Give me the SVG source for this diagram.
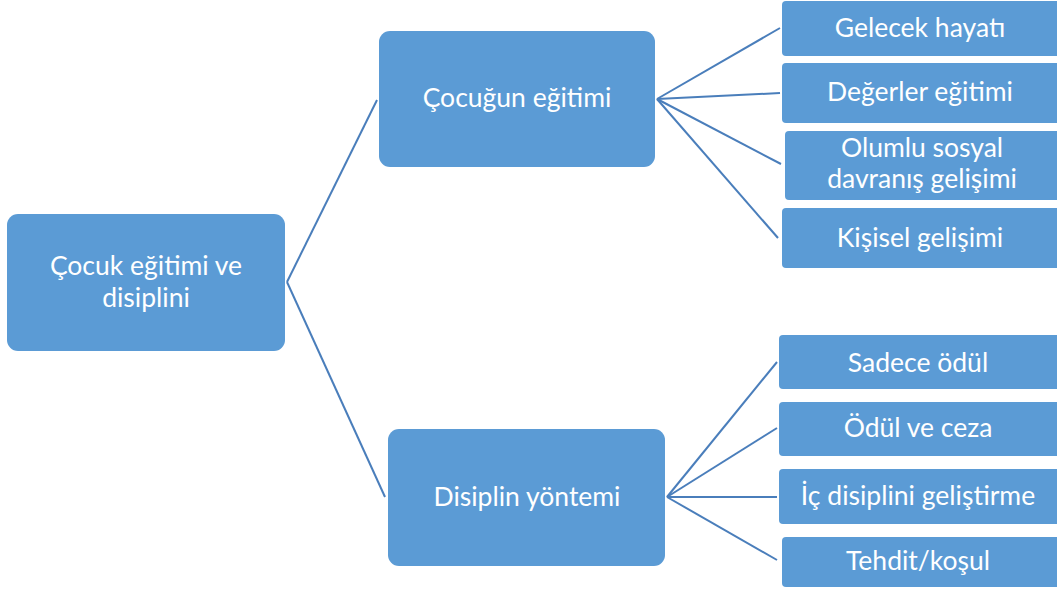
<svg xmlns="http://www.w3.org/2000/svg" width="1057" height="590" viewBox="0 0 1057 590">
<style>
.box{fill:#5b9bd5;}
.t{font-family:Lato,"Liberation Sans",sans-serif;font-size:26.5px;fill:#ffffff;text-anchor:middle;}
.c{stroke:#4a7ebb;stroke-width:2;fill:none;}
</style>
<rect width="1057" height="590" fill="#ffffff"/>
<g id="connectors">
<line class="c" x1="287" y1="282" x2="377" y2="100"/>
<line class="c" x1="287" y1="282" x2="385" y2="497"/>
<line class="c" x1="657" y1="99" x2="780" y2="28"/>
<line class="c" x1="657" y1="99" x2="780" y2="93"/>
<line class="c" x1="657" y1="99" x2="781" y2="164"/>
<line class="c" x1="657" y1="99" x2="778" y2="238"/>
<line class="c" x1="667" y1="497" x2="777" y2="362"/>
<line class="c" x1="667" y1="497" x2="777" y2="428"/>
<line class="c" x1="667" y1="497" x2="777" y2="497"/>
<line class="c" x1="667" y1="497" x2="777" y2="560"/>
</g>
<g id="root">
<rect class="box" x="7" y="214" width="278" height="137" rx="11"/>
<text class="t" x="146" y="275">Çocuk eğitimi ve</text>
<text class="t" x="146" y="307">disiplini</text>
</g>
<g id="cocugun">
<rect class="box" x="379" y="31" width="276" height="136" rx="11"/>
<text class="t" x="517" y="107">Çocuğun eğitimi</text>
</g>
<g id="disiplin">
<rect class="box" x="388" y="429" width="277" height="137" rx="11"/>
<text class="t" x="527" y="506">Disiplin yöntemi</text>
</g>
<g id="gelecek">
<rect class="box" x="782" y="1" width="280" height="55" rx="4"/>
<text class="t" x="920" y="37">Gelecek hayatı</text>
</g>
<g id="degerler">
<rect class="box" x="782" y="63" width="280" height="60" rx="4"/>
<text class="t" x="920" y="101">Değerler eğitimi</text>
</g>
<g id="olumlu">
<rect class="box" x="785" y="131" width="277" height="69" rx="4"/>
<text class="t" x="922" y="157">Olumlu sosyal</text>
<text class="t" x="922" y="188">davranış gelişimi</text>
</g>
<g id="kisisel">
<rect class="box" x="782" y="208" width="280" height="60" rx="4"/>
<text class="t" x="920" y="247">Kişisel gelişimi</text>
</g>
<g id="sadece">
<rect class="box" x="779" y="335" width="283" height="54" rx="4"/>
<text class="t" x="918" y="372">Sadece ödül</text>
</g>
<g id="odul">
<rect class="box" x="779" y="402" width="283" height="54" rx="4"/>
<text class="t" x="918" y="437">Ödül ve ceza</text>
</g>
<g id="ic">
<rect class="box" x="779" y="469" width="283" height="55" rx="4"/>
<text class="t" x="918" y="505">İç disiplini geliştirme</text>
</g>
<g id="tehdit">
<rect class="box" x="782" y="537" width="280" height="50" rx="4"/>
<text class="t" x="918" y="570">Tehdit/koşul</text>
</g>
</svg>
